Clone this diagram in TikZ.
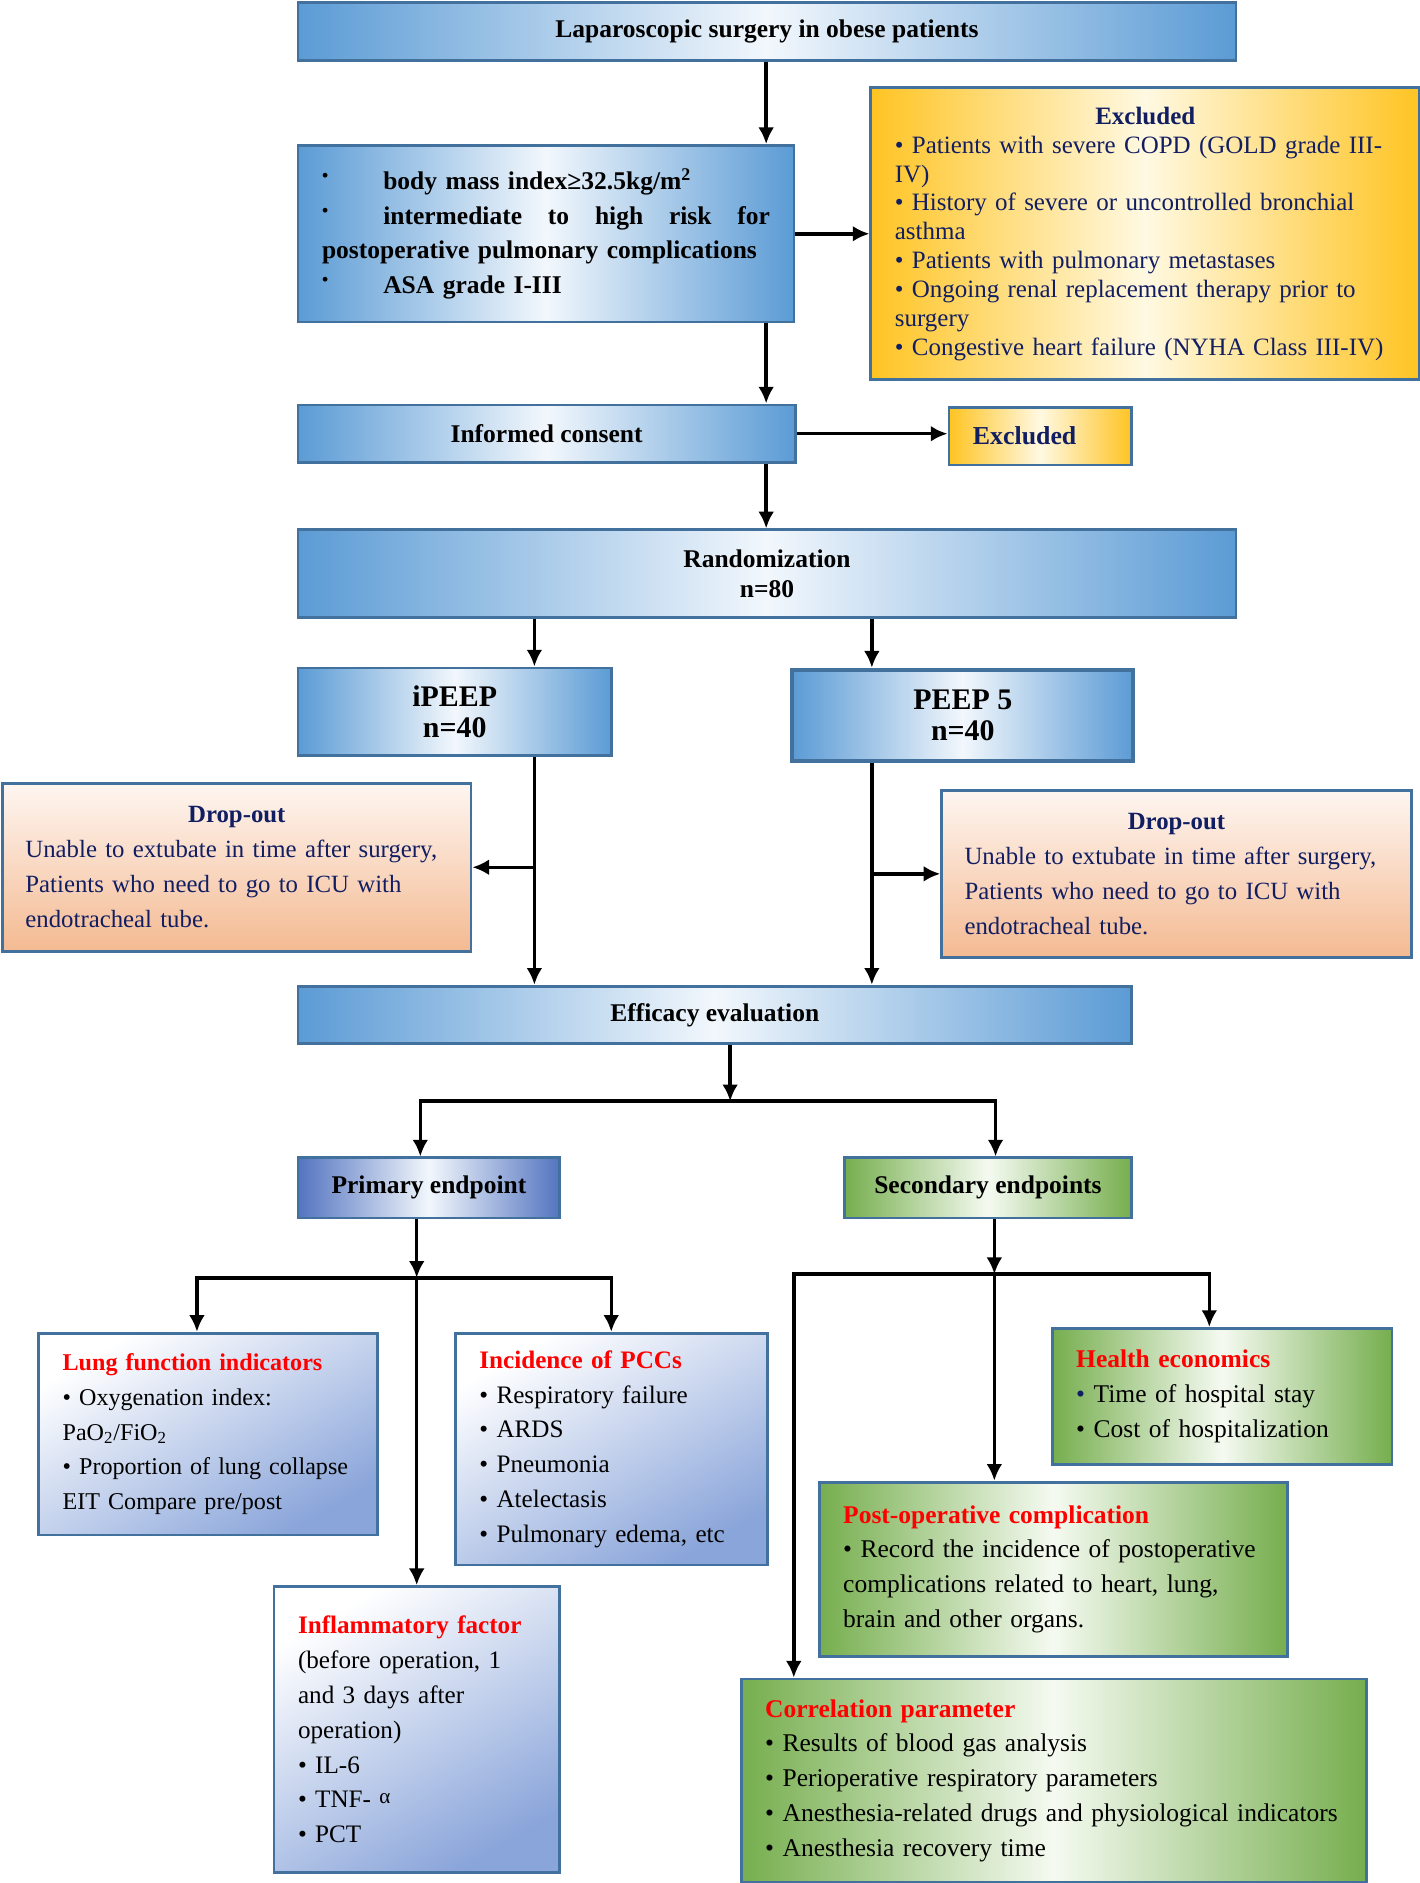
\documentclass[tikz,border=0pt]{standalone}
\usepackage{fontspec}
\setmainfont{Liberation Serif}
\usetikzlibrary{arrows.meta}

\definecolor{boxline}{RGB}{65,113,156}
\definecolor{bluefill}{RGB}{91,155,213}
\definecolor{bluemid}{RGB}{242,247,252}
\definecolor{goldfill}{RGB}{255,196,35}
\definecolor{goldmid}{RGB}{255,249,226}
\definecolor{peachtop}{RGB}{254,246,241}
\definecolor{peachbot}{RGB}{244,186,146}
\definecolor{primblue}{RGB}{84,116,192}
\definecolor{lavender}{RGB}{138,165,218}
\definecolor{leafgreen}{RGB}{118,174,78}
\definecolor{leafmid}{RGB}{245,250,241}
\definecolor{navytext}{RGB}{18,30,98}
\definecolor{titlered}{RGB}{255,0,0}

\newlength\uu
\setlength\uu{0.024cm}

\newcommand{\critbul}{\makebox[51\uu][l]{\raisebox{4.5pt}{\fontsize{10}{10}\selectfont •}}}
\newcommand{\redtitle}[1]{{\color{titlered}\bfseries #1}}

\tikzset{
  basebox/.style={draw=boxline, line width=1.6pt, anchor=north west, inner sep=0pt},
  bluebox/.style={basebox, left color=bluefill, right color=bluefill, middle color=bluemid,
    align=center, font=\fontsize{14.5}{17}\selectfont\bfseries},
  goldbox/.style={basebox, left color=goldfill, right color=goldfill, middle color=goldmid,
    text=navytext, align=left, inner xsep=20\uu},
  dropbox/.style={basebox, top color=peachtop, bottom color=peachbot, text=navytext,
    align=left, inner xsep=19\uu, font=\fontsize{14.1}{19.8}\selectfont},
  lavbox/.style={basebox, top color=white, bottom color=lavender, shading angle=30,
    align=left, inner xsep=20\uu, font=\fontsize{14.3}{19.8}\selectfont},
  leafbox/.style={basebox, left color=leafgreen, right color=leafgreen, middle color=leafmid,
    align=left, inner xsep=20\uu, font=\fontsize{14.5}{19.8}\selectfont},
  arr/.style={line width=2pt, -{Latex[length=9.5pt, width=9pt]}},
  joinline/.style={line width=2pt}
}

\begin{document}
\begin{tikzpicture}[x=0.024cm, y=-0.024cm]

\useasboundingbox (0,0) rectangle (1182,1568);

% screening
\node (lap) [bluebox, minimum width=781\uu, minimum height=48\uu] at (247,1) {Laparoscopic surgery in obese patients};

\node (crit) [bluebox, align=left, text width=373\uu, inner xsep=20\uu, minimum height=147\uu,
  font=\fontsize{14.5}{19.8}\selectfont\bfseries] at (247,120)
  {\critbul body mass index≥32.5kg/m\textsuperscript{2}\\
   \critbul\hbox to 322\uu{intermediate\hfill to\hfill high\hfill risk\hfill for}\\
   postoperative pulmonary complications\\
   \critbul ASA grade I-III};

\node (excl) [goldbox, text width=417\uu, minimum height=243\uu,
  font=\fontsize{14.2}{16.4}\selectfont] at (724,72)
  {\makebox[417\uu]{\bfseries Excluded}\\
   • Patients with severe COPD (GOLD grade III-\\
   IV)\\
   • History of severe or uncontrolled bronchial\\
   asthma\\
   • Patients with pulmonary metastases\\
   • Ongoing renal replacement therapy prior to\\
   surgery\\
   • Congestive heart failure (NYHA Class III-IV)};

\node (consent) [bluebox, minimum width=414\uu, minimum height=48\uu] at (247,336) {Informed consent};

\node (exclsm) [goldbox, text width=112\uu, minimum height=48\uu,
  font=\fontsize{14.7}{17}\selectfont\bfseries] at (789,338) {Excluded};

% randomization
\node (rand) [bluebox, minimum width=781\uu, minimum height=73\uu] at (247,440) {Randomization\\n=80};

\node (ipeep) [bluebox, minimum width=261\uu, minimum height=73\uu,
  font=\fontsize{17}{18}\selectfont\bfseries] at (247,555) {iPEEP\\n=40};
\node (peep) [bluebox, line width=2.4pt, minimum width=284\uu, minimum height=76\uu,
  font=\fontsize{17}{18}\selectfont\bfseries] at (658,556) {PEEP 5\\n=40};

\node (dropL) [dropbox, text width=352\uu, minimum height=140\uu] at (1,651)
  {\makebox[352\uu]{\bfseries Drop-out}\\
   Unable to extubate in time after surgery,\\
   Patients who need to go to ICU with\\
   endotracheal tube.};
\node (dropR) [dropbox, text width=353\uu, minimum height=139\uu] at (783,657)
  {\makebox[353\uu]{\bfseries Drop-out}\\
   Unable to extubate in time after surgery,\\
   Patients who need to go to ICU with\\
   endotracheal tube.};

\node (eff) [bluebox, minimum width=694\uu, minimum height=48\uu] at (247,820) {Efficacy evaluation};

% endpoints
\node (prim) [bluebox, left color=primblue, right color=primblue, middle color=bluemid,
  minimum width=218\uu, minimum height=50\uu] at (247,963) {Primary endpoint};
\node (sec) [bluebox, left color=leafgreen, right color=leafgreen, middle color=leafmid,
  minimum width=239\uu, minimum height=50\uu] at (702,963) {Secondary endpoints};

\node (lung) [lavbox, text width=242\uu, minimum height=168\uu,
  font=\fontsize{13.7}{19.8}\selectfont] at (31,1109)
  {\redtitle{Lung function indicators}\\
   • Oxygenation index:\\
   PaO\textsubscript{2}/FiO\textsubscript{2}\\
   • Proportion of lung collapse\\
   EIT Compare pre/post};

\node (pcc) [lavbox, text width=220\uu, minimum height=193\uu] at (378,1109)
  {\redtitle{Incidence of PCCs}\\
   • Respiratory failure\\
   • ARDS\\
   • Pneumonia\\
   • Atelectasis\\
   • Pulmonary edema, etc};

\node (infl) [lavbox, text width=198\uu, minimum height=238\uu] at (227,1320)
  {\redtitle{Inflammatory factor}\\
   (before operation, 1\\
   and 3 days after\\
   operation)\\
   • IL-6\\
   • TNF- \raisebox{0.35ex}{\fontsize{12}{12}\selectfont α}\\
   • PCT};

\node (health) [leafbox, text width=243\uu, minimum height=113\uu] at (875,1105)
  {\redtitle{Health economics}\\
   {\color{navytext}•} Time of hospital stay\\
   • Cost of hospitalization};

\node (postop) [leafbox, text width=350\uu, minimum height=145\uu] at (681,1233)
  {\redtitle{Post-operative complication}\\
   • Record the incidence of postoperative\\
   complications related to heart, lung,\\
   brain and other organs.};

\node (corr) [leafbox, text width=481\uu, minimum height=169\uu] at (616,1397)
  {\redtitle{Correlation parameter}\\
   • Results of blood gas analysis\\
   • Perioperative respiratory parameters\\
   • Anesthesia-related drugs and physiological indicators\\
   • Anesthesia recovery time};

% connectors
\coordinate (mainx) at (638,0);
\coordinate (leftx) at (445,0);
\coordinate (rightx) at (726,0);

\draw [arr] (lap.south -| mainx) -- (crit.north -| mainx);
\draw [arr] (crit.east) -- (crit.east -| excl.west);
\draw [arr] (crit.south -| mainx) -- (consent.north -| mainx);
\draw [arr] (consent.east) -- (consent.east -| exclsm.west);
\draw [arr] (consent.south -| mainx) -- (rand.north -| mainx);

\draw [arr] (rand.south -| leftx) -- (ipeep.north -| leftx);
\draw [arr] (rand.south -| rightx) -- (peep.north -| rightx);
\draw [arr] (ipeep.south -| leftx) -- (eff.north -| leftx);
\draw [arr] (peep.south -| rightx) -- (eff.north -| rightx);
\draw [arr] (dropL.east -| leftx) -- (dropL.east);
\draw [arr] (dropR.west -| rightx) -- (dropR.west);

\coordinate (effsplit) at (608,917);
\coordinate (primx) at (350,0);
\coordinate (secx) at (829,0);
\draw [arr] (eff.south -| effsplit) -- (effsplit);
\draw [arr] (effsplit) -| (prim.north -| primx);
\draw [arr] (effsplit) -| (sec.north -| secx);

\coordinate (primsplit) at (347,1064);
\coordinate (lungx) at (164,0);
\coordinate (pccx) at (509,0);
\draw [arr] (prim.south -| primsplit) -- (primsplit);
\draw [arr] (primsplit) -| (lung.north -| lungx);
\draw [arr] (primsplit) -| (pcc.north -| pccx);
\draw [arr] (primsplit) -- (infl.north -| primsplit);

\coordinate (secsplit) at (828,1061);
\coordinate (healthx) at (1007,0);
\coordinate (corrx) at (661,0);
\draw [arr] (sec.south -| secsplit) -- (secsplit);
\draw [arr] (secsplit) -| (health.north -| healthx);
\draw [arr] (secsplit) -- (postop.north -| secsplit);
\draw [arr] (secsplit) -| (corr.north -| corrx);

\end{tikzpicture}
\end{document}
